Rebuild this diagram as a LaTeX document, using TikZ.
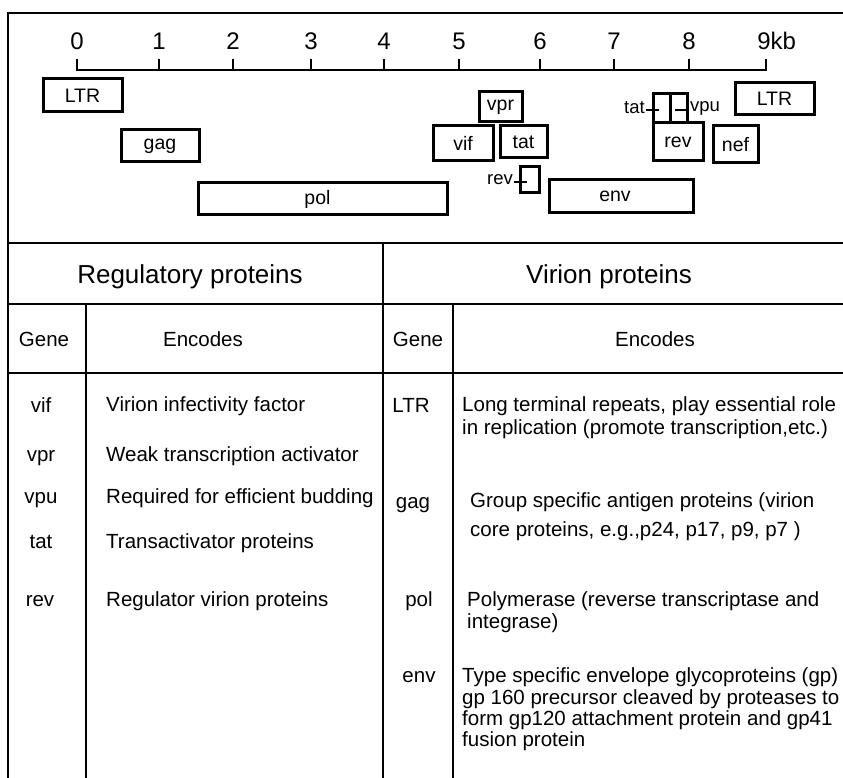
\documentclass[tikz,border=0pt]{standalone}
\usepackage{fontspec}
\setmainfont{Liberation Sans}
\begin{document}
\begin{tikzpicture}[x=1pt,y=-1pt,
  ln/.style={line width=2.9pt},
  gb/.style={draw,line width=3pt,inner sep=0pt,font=\fontsize{19.5}{22}\selectfont},
  tick/.style={line width=2.6pt},
  num/.style={font=\fontsize{24}{28}\selectfont,anchor=base},
  olbl/.style={font=\fontsize{18.5}{22}\selectfont,inner sep=0pt},
  tb/.style={font=\fontsize{20.5}{24}\selectfont,anchor=base west,inner sep=0pt},
  tc/.style={font=\fontsize{20.5}{24}\selectfont,anchor=base,inner sep=0pt},
  hd/.style={font=\fontsize{26}{30}\selectfont,anchor=base,inner sep=0pt}]
\useasboundingbox (0,0) rectangle (843,778);
% frame and table lines
\draw[ln] (8,778) -- (8,13) -- (843,13);
\draw[ln] (8,243) -- (843,243);
\draw[ln] (8,304) -- (843,304);
\draw[ln] (8,373) -- (843,373);
\draw[ln] (383,243) -- (383,778);
\draw[ln] (86,304) -- (86,778);
\draw[ln] (453,304) -- (453,778);
% scale
\draw[ln] (77,59) -- (77,70) -- (766,70) -- (766,59);
\foreach \x/\n in {159/1,233/2,311/3,384/4,459/5,540/6,614/7,689/8}
  \draw[ln] (\x,70) -- (\x,59);
\foreach \x/\n in {77/0,159/1,233/2,311/3,384/4,459/5,540/6,614/7,689/8}
  \node[num] (n\n) at (\x,50) {\n};
\node[num] (n9) at (764,50) {9\rlap{kb}};
% gene boxes
\node[gb,minimum width=79pt,minimum height=33pt] (ltrA) at (82.5,95.5) {LTR};
\node[gb,minimum width=78pt,minimum height=32pt] (gag) at (160,146) {gag};
\node[gb,minimum width=249pt,minimum height=32pt] (pol) at (322.5,199) {\hspace*{-10pt}pol};
\node[gb,minimum width=43pt,minimum height=30pt] (vpr) at (500.5,107) {vpr};
\node[gb,minimum width=60pt,minimum height=35pt] (vif) at (463,143.5) {vif};
\node[gb,minimum width=47pt,minimum height=32pt] (tatA) at (523.5,142) {tat};
\node[gb,minimum width=19pt,minimum height=26pt] (revA) at (529.5,180) {};
\node[gb,minimum width=144pt,minimum height=33pt] (env) at (621,196.5) {\hspace*{-12pt}env};
\node[gb,minimum width=17pt,minimum height=29pt] (tatB) at (661.5,108.5) {};
\node[gb,minimum width=17pt,minimum height=29pt] (vpu) at (678.5,108.5) {};
\node[gb,minimum width=50pt,minimum height=38pt] (revB) at (678,142) {rev};
\node[gb,minimum width=45pt,minimum height=37pt] (nef) at (735.5,144.5) {nef};
\node[gb,minimum width=79pt,minimum height=32pt] (ltrB) at (774.5,99) {LTR};
% outside labels with ticks
\node[olbl,anchor=east] (tatL) at (645,108) {tat};
\draw[tick] (tatL.east) ++(1,2) coordinate (t1) -- (tatB.west |- t1) -- ++(7,0);
\node[olbl,anchor=west] (vpuL) at (690,108) {vpu};
\draw[tick] (vpuL.west) ++(-1,2) coordinate (t2) -- ++(-14,0);
\node[olbl,anchor=east] (revL) at (513,180) {rev};
\draw[tick] (revL.east) ++(1,2) coordinate (t3) -- (revA.west |- t3) -- ++(8,0);
% headers
\node[hd] (hreg) at (190,283) {Regulatory proteins};
\node[hd] (hvir) at (609,283) {Virion proteins};
\node[tc] (g1) at (44,346) {Gene};
\node[tc] (e1) at (203,346) {Encodes};
\node[tc] (g2) at (418,346) {Gene};
\node[tc] (e2) at (655,346) {Encodes};
% regulatory rows
\node[tc] (rvif) at (41,412) {vif};
\node[tb] (dvif) at (106,411) {Virion infectivity factor};
\node[tc] (rvpr) at (41,461) {vpr};
\node[tb] (dvpr) at (106,461) {Weak transcription activator};
\node[tc] (rvpu) at (41,503) {vpu};
\node[tb] (dvpu) at (106,503) {Required for efficient budding};
\node[tc] (rtat) at (41,548) {tat};
\node[tb] (dtat) at (106,548) {Transactivator proteins};
\node[tc] (rrev) at (40,606) {rev};
\node[tb] (drev) at (106,606) {Regulator virion proteins};
% virion rows
\node[tc] (vltr) at (411,412) {LTR};
\node[tb] (dltr1) at (462,411) {Long terminal repeats, play essential role};
\node[tb] (dltr2) at (462,434) {in replication (promote transcription,etc.)};
\node[tc] (vgag) at (413,508) {gag};
\node[tb] (dgag1) at (470,507) {Group specific antigen proteins (virion};
\node[tb] (dgag2) at (470,536) {core proteins, e.g.,p24, p17, p9, p7 )};
\node[tc] (vpol) at (419,606) {pol};
\node[tb] (dpol1) at (467,606) {Polymerase (reverse transcriptase and};
\node[tb] (dpol2) at (467,628) {integrase)};
\node[tc] (venv) at (419,682) {env};
\node[tb] (denv1) at (462,682) {Type specific envelope glycoproteins (gp)};
\node[tb] (denv2) at (462,704) {gp 160 precursor cleaved by proteases to};
\node[tb] (denv3) at (462,725) {form gp120 attachment protein and gp41};
\node[tb] (denv4) at (462,746) {fusion protein};
\end{tikzpicture}
\end{document}
